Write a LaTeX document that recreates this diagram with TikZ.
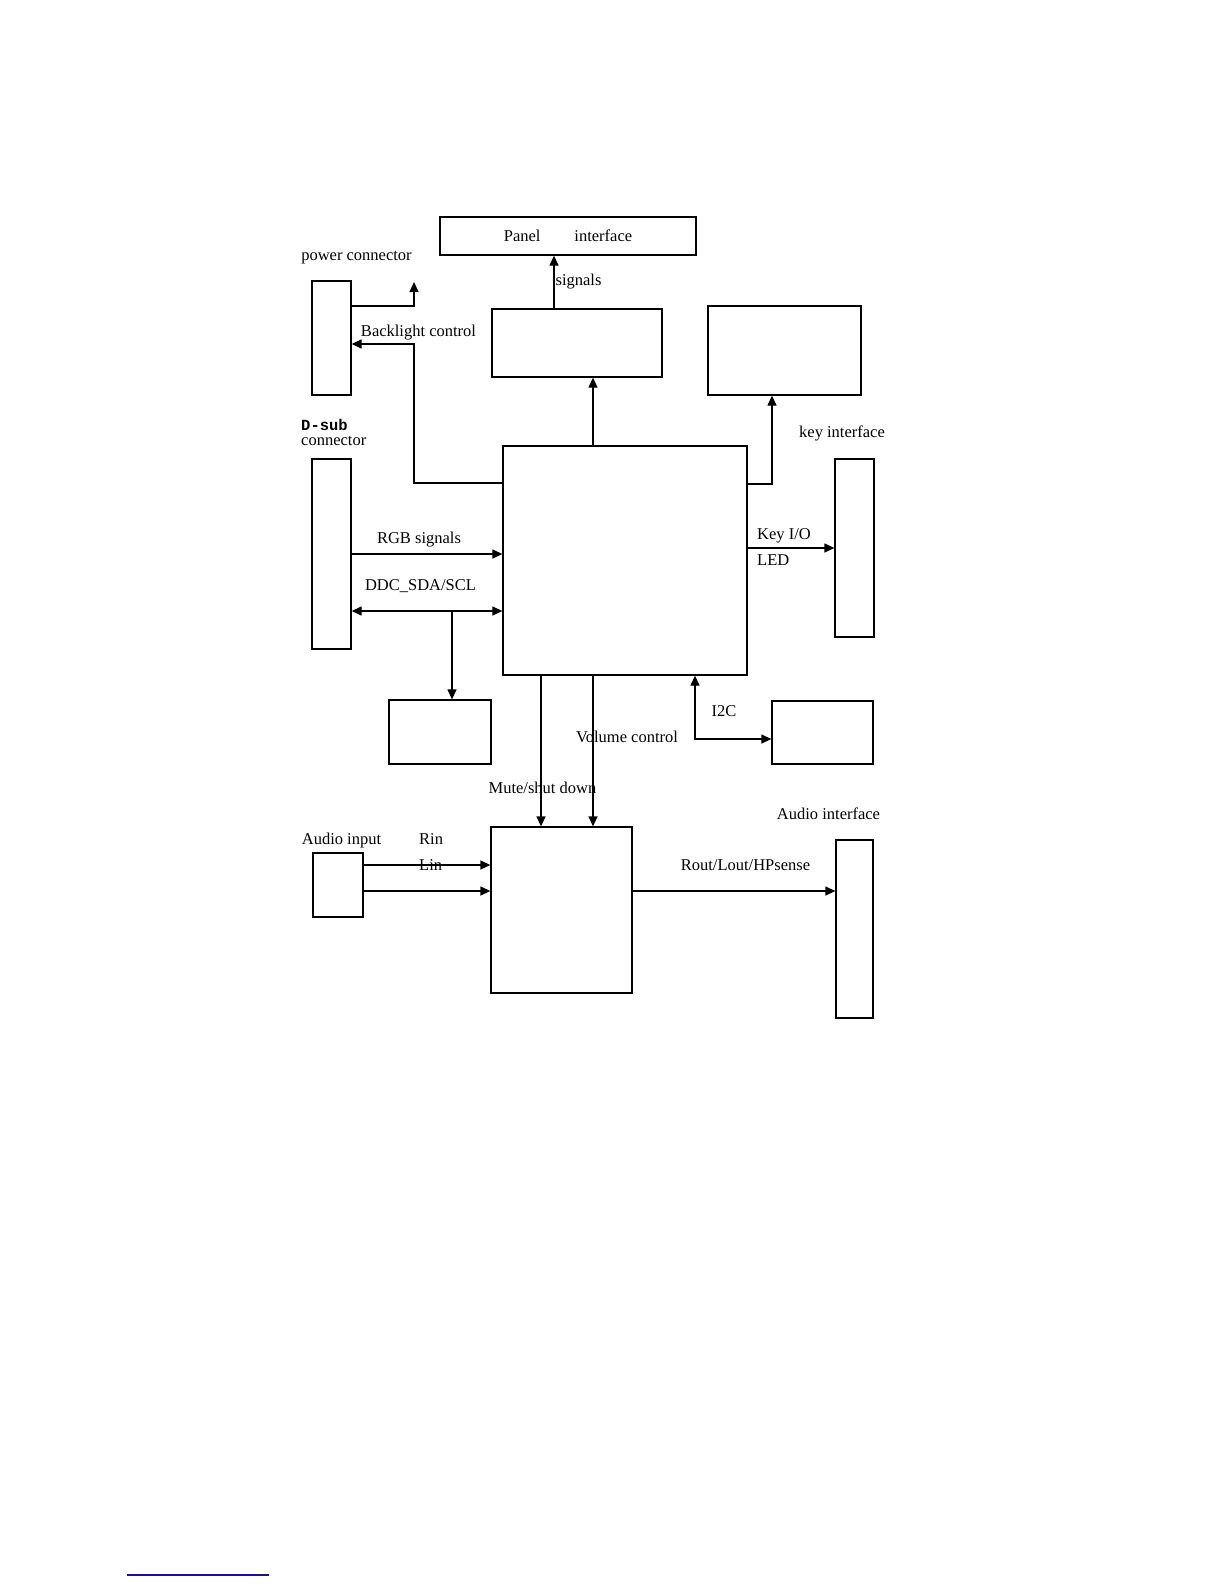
\documentclass[tikz,border=0pt]{standalone}
\usepackage{fontspec}
\setmainfont{Liberation Serif}
\setmonofont{Liberation Mono}
\usetikzlibrary{arrows.meta}
\definecolor{linkblue}{RGB}{20,20,140}
\begin{document}
\begin{tikzpicture}[x=1pt,y=-1pt,
  box/.style={draw, line width=1.3pt, inner sep=0pt},
  conn/.style={line width=1.3pt},
  tip/.style={conn, -{Triangle[length=10pt,width=9pt]}},
  tipboth/.style={conn, {Triangle[length=10pt,width=9pt]}-{Triangle[length=10pt,width=9pt]}},
  lbl/.style={inner sep=0pt, anchor=mid, font=\fontsize{16.5}{19}\selectfont},
  lblw/.style={lbl, anchor=mid west}]
\useasboundingbox[fill=white] (0,0) rectangle (1224,1584);

% boxes
\node[box, minimum width=256pt, minimum height=38pt] (panel) at (568,236)
  {\fontsize{16.5}{19}\selectfont Panel\hspace{34pt}interface};
\node[box, minimum width=39pt, minimum height=114pt] (pwr) at (331.5,338) {};
\node[box, minimum width=170pt, minimum height=68pt] (scaler) at (577,343) {};
\node[box, minimum width=153pt, minimum height=89pt] (rtop) at (784.5,350.5) {};
\node[box, minimum width=39pt, minimum height=190pt] (dsub) at (331.5,554) {};
\node[box, minimum width=244pt, minimum height=229pt] (main) at (625,560.5) {};
\node[box, minimum width=39pt, minimum height=178pt] (key) at (854.5,548) {};
\node[box, minimum width=102pt, minimum height=64pt] (eeprom) at (440,732) {};
\node[box, minimum width=101pt, minimum height=63pt] (i2cbox) at (822.5,732.5) {};
\node[box, minimum width=50pt, minimum height=64pt] (ain) at (338,885) {};
\node[box, minimum width=141pt, minimum height=166pt] (amp) at (561.5,910) {};
\node[box, minimum width=37pt, minimum height=178pt] (aout) at (854.5,929) {};

% labels
\node[lbl] (lpwr) at (356.5,258) {power connector};
\node[lbl] (lback) at (418.5,334) {Backlight control};
\node[lbl] (lsig) at (578.5,283) {signals};
\node[inner sep=0pt, anchor=mid west, font=\fontsize{15.5}{17}\selectfont\ttfamily\bfseries] (ldsub) at (301,428) {D-sub};
\node[lblw] (lconn) at (301,443) {connector};
\node[lbl] (lrgb) at (419,541) {RGB signals};
\node[lbl] (lddc) at (420.5,588) {DDC\_SDA/SCL};
\node[lbl] (lkeyif) at (842,435) {key interface};
\node[lblw] (lkeyio) at (757,537) {Key I/O};
\node[lblw] (lled) at (757,563) {LED};
\node[lbl] (li2c) at (724,714) {I2C};
\node[lbl] (lvol) at (627,740) {Volume control};
\node[lbl] (lmute) at (542.5,791) {Mute/shut down};
\node[lbl] (laudif) at (828.5,817) {Audio interface};
\node[lbl] (lain) at (341.5,842) {Audio input};
\node[lblw] (lrin) at (419,842) {Rin};
\node[lblw] (llin) at (419,868) {Lin};
\node[lbl] (lrout) at (745.5,868) {Rout/Lout/HPsense};

% connectors
\coordinate (pwrup) at (414,282);
\draw[tip] (pwr.east |- 0,306) -- (414,306) -- (pwrup);
\draw[tip] (main.west |- 0,483) -- (414,483) -- (414,344) -- (pwr.east |- 0,344);
\draw[tip] (554,0 |- scaler.north) -- (554,0 |- panel.south);
\draw[tip] (593,0 |- main.north) -- (593,0 |- scaler.south);
\draw[tip] (main.east |- 0,484) -- (772,484) -- (772,0 |- rtop.south);
\draw[tip] (dsub.east |- 0,554) -- (main.west |- 0,554);
\draw[tipboth] (dsub.east |- 0,611) -- (main.west |- 0,611);
\coordinate (ddcbr) at (452,611);
\draw[tip] (ddcbr) -- (452,0 |- eeprom.north);
\draw[tip] (main.east |- 0,548) -- (key.west |- 0,548);
\draw[tip] (541,0 |- main.south) -- (541,0 |- amp.north);
\draw[tip] (593,0 |- main.south) -- (593,0 |- amp.north);
\draw[tipboth] (695,0 |- main.south) -- (695,739) -- (i2cbox.west |- 0,739);
\draw[tip] (ain.east |- 0,865) -- (amp.west |- 0,865);
\draw[tip] (ain.east |- 0,891) -- (amp.west |- 0,891);
\draw[tip] (amp.east |- 0,891) -- (aout.west |- 0,891);

% bottom rule
\draw[linkblue, line width=1.5pt] (127,1575) -- (269,1575);
\end{tikzpicture}
\end{document}
